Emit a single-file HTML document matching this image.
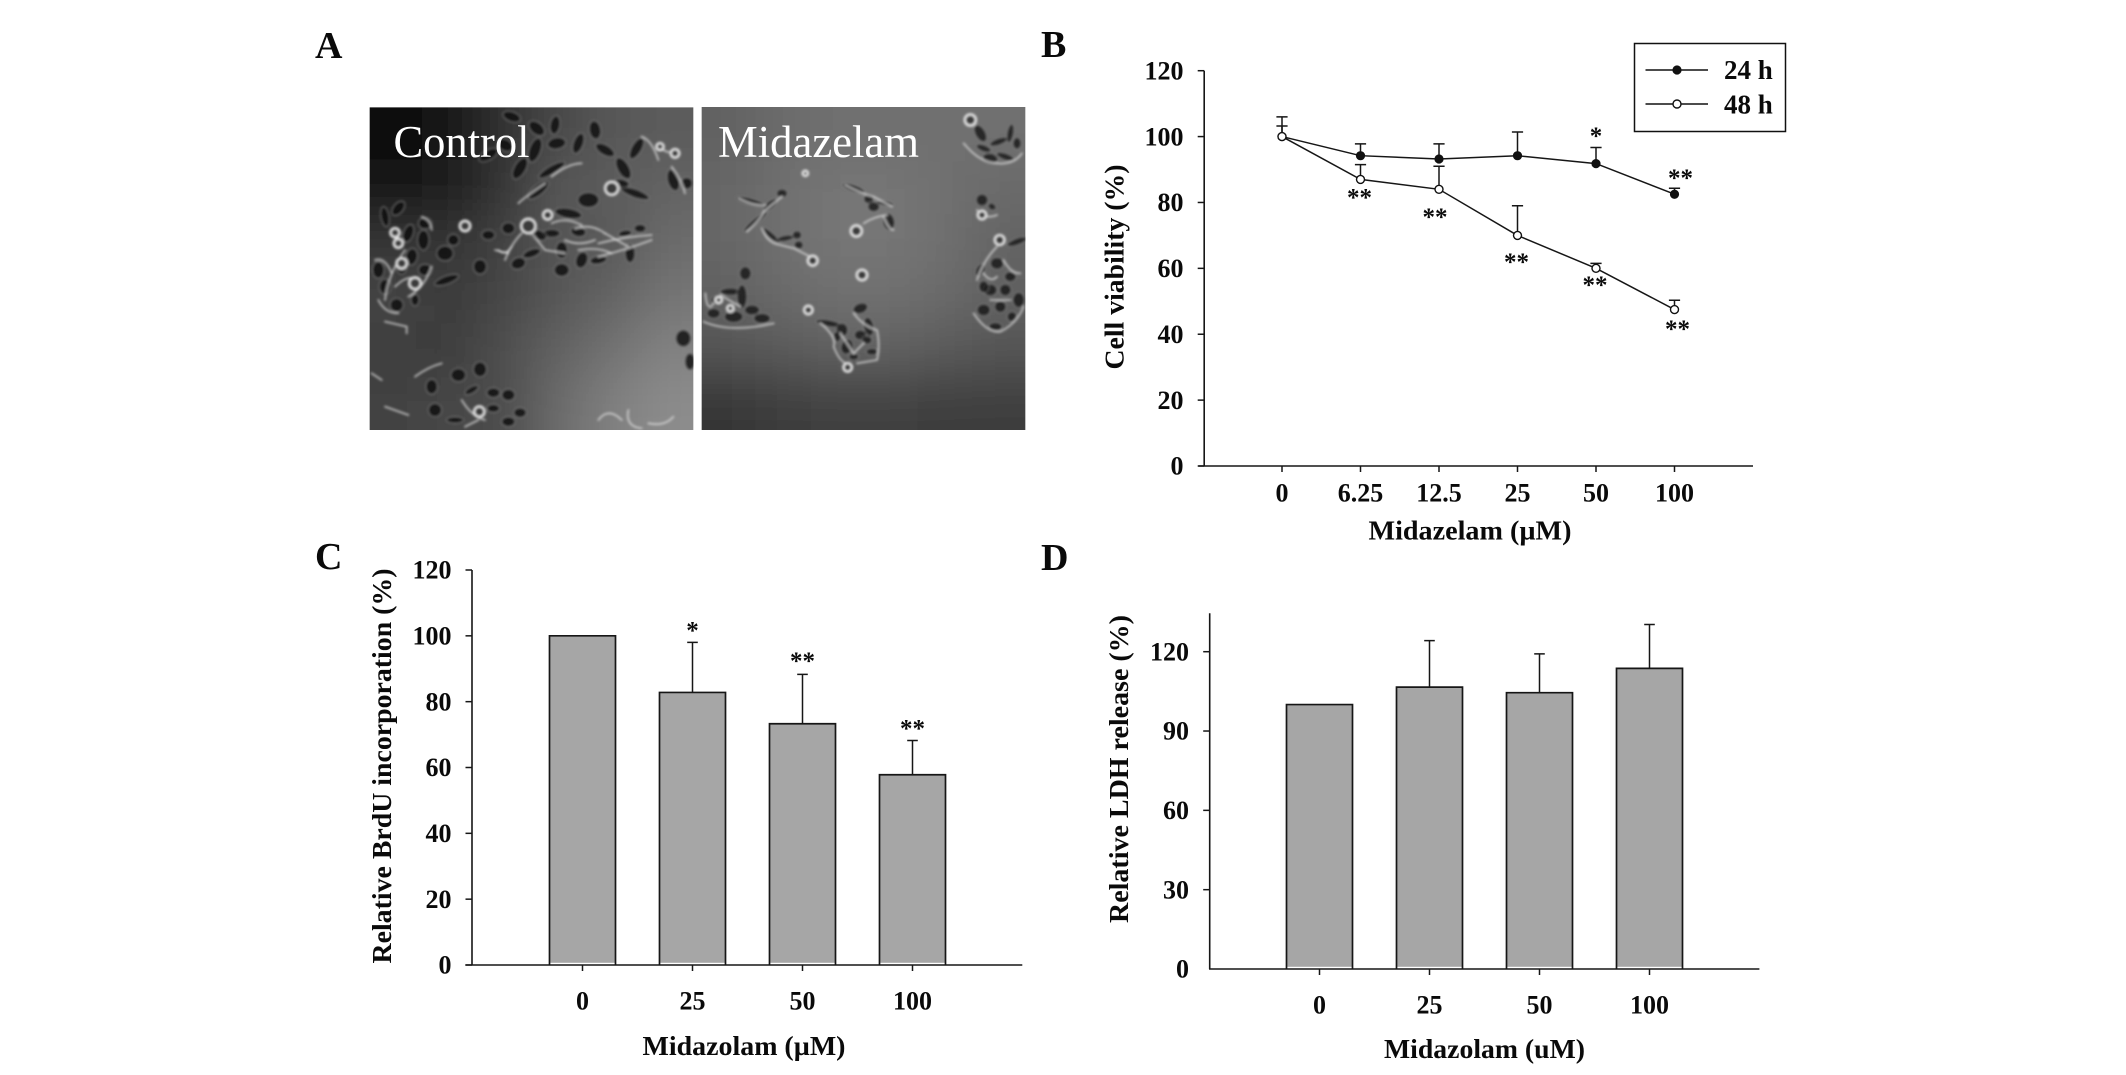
<!DOCTYPE html>
<html lang="en">
<head>
<meta charset="utf-8">
<title>Midazolam cell viability figure</title>
<style>
html,body{margin:0;padding:0;background:#fff;width:2126px;height:1075px;overflow:hidden}
svg{display:block}
text{font-family:"Liberation Serif",serif;fill:#0a0a0a}
.b{font-weight:bold}
.tick{font-size:26px;font-weight:bold}
.title{font-size:27px;font-weight:bold}
.panel{font-size:38px;font-weight:bold}
.star{font-size:25px;font-weight:bold;text-anchor:middle}
.ph{font-size:45px;fill:#fff}
</style>
</head>
<body>
<svg id="fig" xmlns="http://www.w3.org/2000/svg" width="2126" height="1075" viewBox="0 0 2126 1075">
<defs>
<filter id="bgblur" filterUnits="userSpaceOnUse" x="-500" y="-500" width="2100" height="2100"><feGaussianBlur stdDeviation="75"/></filter>
<filter id="cellblur" filterUnits="userSpaceOnUse" x="-100" y="-100" width="1300" height="1300"><feGaussianBlur stdDeviation="3.6"/></filter>
<clipPath id="clipL"><rect x="14" y="22" width="971" height="968"/></clipPath>
<clipPath id="clipR"><rect x="14" y="21" width="971" height="969"/></clipPath>
</defs>
<rect x="0" y="0" width="2126" height="1075" fill="#fff"/>

<text class="panel" x="315" y="58">A</text>
<text class="panel" x="1041" y="57">B</text>
<text class="panel" x="315" y="569">C</text>
<text class="panel" x="1041" y="570">D</text>

<g id="photoL" transform="translate(365,100) scale(0.33333)"><g id="photoLinner" clip-path="url(#clipL)"></g></g>
<g id="photoR" transform="translate(697,100) scale(0.33333)"><g id="photoRinner" clip-path="url(#clipR)"></g></g>
<text class="ph" x="393.5" y="157" textLength="136" lengthAdjust="spacingAndGlyphs">Control</text>
<text class="ph" x="718" y="157" textLength="201" lengthAdjust="spacingAndGlyphs">Midazelam</text>

<g id="chartB">
<text class="title" transform="translate(1123.5,369.5) rotate(-90)" textLength="205" lengthAdjust="spacingAndGlyphs">Cell viability (%)</text>
<text class="title" x="1368.5" y="539.5" textLength="203" lengthAdjust="spacingAndGlyphs">Midazelam (µM)</text>
<g>
<rect x="1634.5" y="43.5" width="151" height="88" fill="#fff" stroke="#111" stroke-width="1.5"/>
<line x1="1645.5" x2="1708" y1="70" y2="70" stroke="#111" stroke-width="1.5"/>
<circle cx="1677" cy="70" r="4" fill="#111" stroke="#111" stroke-width="1.2"/>
<text class="b" x="1724" y="79" font-size="27">24 h</text>
<line x1="1645.5" x2="1708" y1="104" y2="104" stroke="#111" stroke-width="1.5"/>
<circle cx="1677" cy="104" r="4" fill="#fff" stroke="#111" stroke-width="1.4"/>
<text class="b" x="1724" y="113.5" font-size="27">48 h</text>
</g>
</g>

<g id="chartC">
<text class="title" transform="translate(391,963.5) rotate(-90)" textLength="395" lengthAdjust="spacingAndGlyphs">Relative BrdU incorporation (%)</text>
<text class="title" x="642.5" y="1055" textLength="203" lengthAdjust="spacingAndGlyphs">Midazolam (µM)</text>
</g>

<g id="chartD">
<text class="title" transform="translate(1128,923) rotate(-90)" textLength="308" lengthAdjust="spacingAndGlyphs">Relative LDH release (%)</text>
<text class="title" x="1384" y="1058" textLength="201" lengthAdjust="spacingAndGlyphs">Midazolam (uM)</text>
</g>
</svg>

<script>
// ---- Chart data ----
const viabilityCategories = ['0', '6.25', '12.5', '25', '50', '100'];
const viabilityTicks = [0, 20, 40, 60, 80, 100, 120];
const viability24 = [100, 94.2, 93.2, 94.2, 91.8, 82.5];
const viability24Err = [103.2, 97.8, 97.8, 101.4, 96.7, 84.3];
const viability48 = [100, 87, 84, 70, 60, 47.5];
const viability48Err = [106, 91.5, 91, 79, 61.5, 50.3];
const viability24Stars = ['', '', '', '', '*', '**'];
const viability24StarLevels = [0, 0, 0, 0, 101.4, 88.6];
const viability48Stars = ['', '**', '**', '**', '**', '**'];
const viability48StarLevels = [0, 82.7, 76.8, 63.1, 56.2, 42.8];

const brduCategories = ['0', '25', '50', '100'];
const brduTicks = [0, 20, 40, 60, 80, 100, 120];
const brduValues = [100, 82.8, 73.3, 57.8];
const brduErr = [100, 98, 88.3, 68.2];
const brduStars = ['', '*', '**', '**'];
const brduStarLevels = [0, 102.8, 93.6, 73.1];

const ldhCategories = ['0', '25', '50', '100'];
const ldhTicks = [0, 30, 60, 90, 120];
const ldhValues = [100, 106.6, 104.5, 113.7];
const ldhErr = [100, 124.2, 119.2, 130.3];

// ---- Photo texture data (hand-estimated grey levels and cell shapes) ----
const photoLeftGrey = [
  [8, 18, 50, 72, 88, 92],
  [20, 26, 52, 88, 92, 100],
  [54, 52, 66, 86, 88, 108],
  [68, 58, 70, 86, 100, 116],
  [60, 60, 80, 98, 114, 130],
  [66, 70, 76, 108, 128, 140]
];
const photoRightGrey = [
  [98, 108, 112, 112, 112, 112],
  [102, 112, 118, 118, 112, 106],
  [102, 112, 118, 118, 112, 100],
  [96, 106, 112, 112, 106, 96],
  [84, 90, 96, 96, 90, 84],
  [54, 60, 64, 64, 60, 60]
];
const leftCells = [
 [440,50,22,12,20],[515,85,22,14,40],[570,75,12,22,10],[575,130,22,14,-10],[510,150,14,30,20],[370,165,25,12,-30],[420,135,20,14,30],[465,205,14,28,30],[640,130,12,25,20],[690,90,14,22,-10],[720,150,25,12,30],[775,205,14,28,-30],[815,145,12,28,30],[520,270,30,12,-40],[560,210,35,10,-30],[810,280,35,10,20],[770,250,18,10,10],
 [670,300,25,18,0],[610,340,32,12,10],[560,400,20,10,0],[640,395,18,12,10],[520,405,20,12,20],[430,385,16,14,0],[370,405,16,12,0],[460,490,18,14,-20],[500,460,22,10,-20],[590,510,18,16,0],[590,450,14,20,0],[650,480,14,20,20],[700,480,20,10,-10],[795,460,12,22,0],[825,385,14,10,0],[780,400,16,8,-10],[345,500,16,18,0],[240,460,20,18,0],[265,420,14,14,0],
 [180,370,16,14,0],[175,420,14,24,0],[130,400,12,22,20],[60,350,10,24,-10],[100,325,12,20,40],[40,510,14,20,0],[140,470,14,20,10],[180,510,16,14,0],[245,540,30,10,-20],[95,615,16,16,0],[60,560,14,18,0],[110,500,12,18,0],[150,600,10,14,0],
 [280,825,18,16,0],[345,808,16,18,0],[210,930,16,16,0],[320,870,18,8,-30],[385,878,16,12,0],[430,885,16,14,0],[385,925,15,10,0],[465,938,15,12,0],[430,965,16,12,0],[200,860,14,18,0],[955,715,18,20,0],[975,785,12,20,0],[270,960,20,8,0],[925,240,14,26,-15],[965,250,14,14,0]
];
const leftRings = [[740,265,20],[490,378,22],[548,345,14],[90,398,14],[100,430,14],[300,378,16],[110,490,16],[150,550,18],[343,935,16],[930,160,13],[885,140,11]];
const leftStreaks = [
 "M700 430Q780 410 860 405","M700 470Q780 450 860 420","M630 385Q680 370 720 400","M500 400L540 450L600 460","M420 480Q440 430 470 400",
 "M60 600Q70 520 120 450","M130 590Q180 560 200 500","M40 600Q60 640 100 640","M170 350Q200 360 200 390","M560 230Q610 190 650 190",
 "M700 960Q730 920 770 960M790 930Q780 980 830 985M850 970Q900 980 925 950","M60 665L125 680L125 700","M150 830Q190 800 230 790","M20 820L50 840","M60 920L130 945",
 "M290 900Q320 950 360 960","M300 980L340 960","M880 130Q900 170 940 150","M460 310Q480 290 540 250","M640 450Q700 440 740 460","M400 450Q420 470 440 440",
 "M560 370Q600 350 650 375","M600 420Q640 440 690 420","M720 400L790 440","M30 480Q60 470 80 520","M90 560Q130 520 160 540","M390 450L430 460","M920 200Q950 240 960 280","M830 110Q860 120 880 180"
];
const rightCells = [
 [850,100,12,22,-30],[905,125,22,8,-20],[940,100,8,22,10],[860,145,18,8,20],[880,175,18,12,10],[925,170,22,8,20],[960,130,10,14,0],
 [855,300,14,14,0],[885,320,10,8,30],
 [960,425,24,8,-20],[850,510,10,16,30],[900,490,16,14,0],[940,530,14,12,0],[880,570,16,14,0],[925,570,14,14,0],[965,600,14,18,0],[860,630,16,14,0],[910,620,14,14,0],[895,680,16,10,0],[860,560,12,14,0],[945,650,12,12,0],
 [145,520,14,16,0],[60,600,14,10,0],[100,575,24,9,0],[135,590,12,28,0],[50,640,16,12,0],[110,650,22,14,0],[165,630,18,12,0],[195,655,20,12,0],
 [490,625,18,12,-20],[395,670,30,8,10],[435,690,14,16,0],[515,680,12,22,-10],[490,705,14,12,0],[510,720,12,10,0],[450,740,14,18,20],[420,710,10,12,0],[470,770,12,8,0],[525,755,14,8,0],
 [160,305,35,8,15],[220,315,20,9,-40],[175,365,35,7,-40],[255,280,13,10,0],[220,405,28,7,40],[265,415,20,7,-10],[300,405,11,10,0],[305,435,11,10,0],
 [470,265,28,8,20],[515,297,12,11,0],[530,320,14,12,0],[565,310,20,6,10],[575,365,14,20,-10]
];
const rightRings = [[820,60,17],[855,345,13],[908,420,15],[100,625,10],[65,600,10],[452,802,13],[334,630,13],[495,525,16],[347,482,15],[478,393,17],[325,220,8]];
const rightStreaks = [
 "M800 130Q850 190 900 190Q950 195 975 160","M840 330Q860 360 900 345","M830 640Q870 700 910 695Q960 670 980 620","M860 520Q880 550 900 530M920 480Q940 520 970 520M880 600L940 600M900 440Q860 480 840 540",
 "M25 580Q30 640 50 610M20 665Q100 700 230 670","M70 585L130 620","M370 670Q420 710 410 740Q430 790 452 790","M470 640Q500 680 540 690Q550 740 540 780L480 790",
 "M430 700L470 760L500 730","M125 295Q170 320 205 315","M150 395Q190 360 200 335Q230 310 255 290","M195 385Q210 430 250 435L290 445L340 470",
 "M445 255Q490 280 530 290L585 320","M500 370Q530 350 570 345","M590 390Q575 390 560 350"
];

// ---- Helpers ----
const NS = 'http://www.w3.org/2000/svg';
function mk(tag, attrs, parent) {
  const el = document.createElementNS(NS, tag);
  for (const k in attrs) el.setAttribute(k, attrs[k]);
  parent.appendChild(el);
  return el;
}
function linear(d0, d1, r0, r1) { return v => r0 + (v - d0) * (r1 - r0) / (d1 - d0); }
const AXIS = '#161616';

function axes(root, o) {
  const yax = mk('line', {x1:o.axX, x2:o.axX, y1:o.axTop, y2:o.y(0), stroke:AXIS, 'stroke-width':1.6}, root);
  
  
  const xax = mk('line', {x1:o.xStart, x2:o.xEnd, y1:o.y(0), y2:o.y(0), stroke:AXIS, 'stroke-width':1.6}, root);
  
  
  o.yTicks.forEach(t => {
    if (t !== 0 || o.zeroTick) {
      const tk = mk('line', {x1:o.axX - 6.5, x2:o.axX, y1:o.y(t), y2:o.y(t), stroke:AXIS, 'stroke-width':1.5}, root);
      
      
    }
    const lb = mk('text', {class:'tick', x:o.yLabelX, y:o.y(t) + 8.7, 'text-anchor':'end'}, root);
    lb.textContent = t;
    
    
  });
  o.cats.forEach((c, i) => {
    const tk = mk('line', {x1:o.x(i), x2:o.x(i), y1:o.y(0), y2:o.y(0) + 6, stroke:AXIS, 'stroke-width':1.5}, root);
    
    
    const lb = mk('text', {class:'tick', x:o.x(i), y:o.xLabelY, 'text-anchor':'middle'}, root);
    lb.textContent = c;
    
    
  });
}
function errBar(root, x, yFrom, yTo, half, name) {
  const e = mk('path', {d:`M${x} ${yFrom}V${yTo}M${x - half} ${yTo}H${x + half}`, fill:'none', stroke:AXIS, 'stroke-width':1.5}, root);
  
  
}
function star(root, x, y, s, name) {
  const t = mk('text', {class:'star', x:x, y:y + 12}, root);
  t.textContent = s;
  
  
}
function bars(root, o, vals, errs) {
  const w = 66;
  vals.forEach((v, i) => {
    const cx = o.x(i), top = o.y(v), base = o.y(0);
    const f = mk('rect', {x:cx - w / 2, y:top, width:w, height:base - top - 2.2, fill:'#a6a6a6'}, root);
    
    
    const s = mk('path', {d:`M${cx - w / 2} ${base}V${top}H${cx + w / 2}V${base}`, fill:'none', stroke:AXIS, 'stroke-width':1.7}, root);
    
    
    if (errs[i] > v) errBar(root, cx, top, o.y(errs[i]), 5.3, o.key + '-error-bar-' + o.cats[i]);
  });
}

// ---- Panel B ----
(function () {
  const root = document.getElementById('chartB');
  const o = {key:'viability', cats:viabilityCategories, yTicks:viabilityTicks, zeroTick:true,
    x:linear(0, 5, 1282, 1674.5), y:linear(0, 120, 466, 70.7),
    axX:1204.2, axTop:70.7, xStart:1198.5, xEnd:1753, yLabelX:1183.5, xLabelY:501.5};
  axes(root, o);
  viability24.forEach((v, i) => errBar(root, o.x(i), o.y(v), o.y(viability24Err[i]), 5.6, 'error-bar-24h-' + viabilityCategories[i]));
  viability48.forEach((v, i) => errBar(root, o.x(i), o.y(v), o.y(viability48Err[i]), 5.6, 'error-bar-48h-' + viabilityCategories[i]));
  const l24 = mk('polyline', {points:viability24.map((v, i) => o.x(i) + ',' + o.y(v)).join(' '), fill:'none', stroke:AXIS, 'stroke-width':1.5}, root);
  
  
  const l48 = mk('polyline', {points:viability48.map((v, i) => o.x(i) + ',' + o.y(v)).join(' '), fill:'none', stroke:AXIS, 'stroke-width':1.5}, root);
  
  
  viability24.forEach((v, i) => {
    const c = mk('circle', {cx:o.x(i), cy:o.y(v), r:4, fill:'#111', stroke:'#111', 'stroke-width':1.2}, root);
    
    
  });
  viability48.forEach((v, i) => {
    const c = mk('circle', {cx:o.x(i), cy:o.y(v), r:4, fill:'#fff', stroke:'#111', 'stroke-width':1.4}, root);
    
    
  });
  viability24Stars.forEach((s, i) => { if (s) star(root, o.x(i) + (i === 5 ? 6 : 0), o.y(viability24StarLevels[i]), s, 'significance-24h-' + viabilityCategories[i]); });
  viability48Stars.forEach((s, i) => { if (s) star(root, o.x(i) + (i === 5 ? 3 : i === 2 ? -4 : -1), o.y(viability48StarLevels[i]), s, 'significance-48h-' + viabilityCategories[i]); });
})();

// ---- Panel C ----
(function () {
  const root = document.getElementById('chartC');
  const o = {key:'brdu', cats:brduCategories, yTicks:brduTicks, zeroTick:true,
    x:linear(0, 3, 582.5, 912.5), y:linear(0, 120, 965, 570),
    axX:472, axTop:570, xStart:465.3, xEnd:1022.3, yLabelX:451.5, xLabelY:1009.5};
  bars(root, o, brduValues, brduErr);
  axes(root, o);
  brduStars.forEach((s, i) => { if (s) star(root, o.x(i), o.y(brduStarLevels[i]), s, 'significance-brdu-' + brduCategories[i]); });
})();

// ---- Panel D ----
(function () {
  const root = document.getElementById('chartD');
  const o = {key:'ldh', cats:ldhCategories, yTicks:ldhTicks, zeroTick:false,
    x:linear(0, 3, 1319.5, 1649.5), y:linear(0, 120, 969, 651.7),
    axX:1209.7, axTop:613.3, xStart:1209, xEnd:1759.4, yLabelX:1189, xLabelY:1013.5};
  bars(root, o, ldhValues, ldhErr);
  axes(root, o);
})();

// ---- Panel A photos ----
function drawPhoto(root, grey, cells, rings, streaks, key, darkFill, haloColor) {
  const bg = mk('g', {filter:'url(#bgblur)'}, root);
  
  
  const step = 162;
  grey.forEach((row, r) => row.forEach((g, c) => {
    let x = 14 + c * step, y = 22 + r * step, w = step + 1, h = step + 1;
    if (c === 0) { x -= 400; w += 400; }
    if (r === 0) { y -= 400; h += 400; }
    if (c === row.length - 1) w += 400;
    if (r === grey.length - 1) h += 400;
    const t = mk('rect', {x:x, y:y, width:w, height:h, fill:`rgb(${g},${g},${g})`}, bg);
    
    
  }));
  const fg = mk('g', {filter:'url(#cellblur)'}, root);
  
  
  cells.forEach(a => {
    const e = mk('ellipse', {cx:a[0], cy:a[1], rx:a[2] * 1.3, ry:a[3] * 1.3, transform:`rotate(${a[4]} ${a[0]} ${a[1]})`, fill:darkFill, 'fill-opacity':0.82, stroke:haloColor, 'stroke-width':3, 'stroke-opacity':0.32}, fg);
    
    
  });
  streaks.forEach(d => {
    const p = mk('path', {d:d, fill:'none', stroke:'#e4e4e4', 'stroke-width':5.5, 'stroke-linecap':'round', 'stroke-opacity':0.72}, fg);
    
    
  });
  rings.forEach(a => {
    const c = mk('circle', {cx:a[0], cy:a[1], r:a[2], fill:'#3a3a3a', stroke:'#e6e6e6', 'stroke-width':7}, fg);
    
    
  });
}
drawPhoto(document.getElementById('photoLinner'), photoLeftGrey, leftCells, leftRings, leftStreaks, 'control', '#141414', '#d8d8d8');
drawPhoto(document.getElementById('photoRinner'), photoRightGrey, rightCells, rightRings, rightStreaks, 'midazelam', '#1a1a1a', '#d0d0d0');
</script>
</body>
</html>
